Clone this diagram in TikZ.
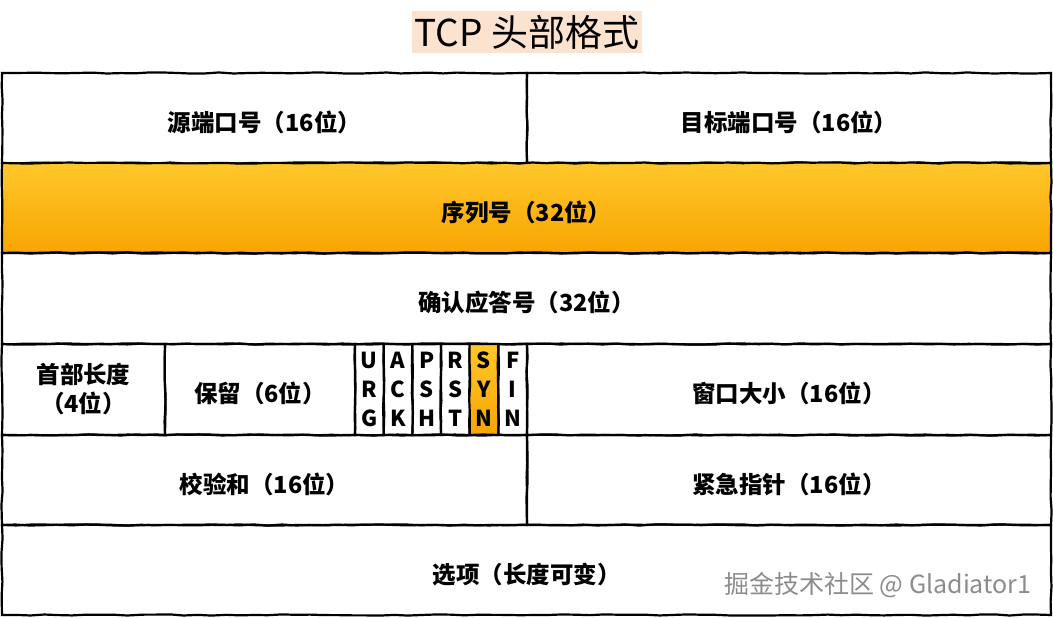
\documentclass[tikz,border=0pt]{standalone}
\usepackage{fontspec}
\setmainfont{Noto Sans CJK SC}
\usetikzlibrary{positioning, decorations.pathmorphing}
\definecolor{orangetop}{HTML}{FFC72C}
\definecolor{orangebot}{HTML}{F8A500}
\definecolor{peach}{HTML}{FCE3CF}

\begin{document}
\begin{tikzpicture}[x=1pt, y=-1pt, font=\bfseries\fontsize{23.5}{28}\selectfont]
        % Setup the styles for the header fields
        \tikzset{field/.style={rectangle,
                               draw=black,
                               line width=2.2pt,
                               anchor=north west,
                               inner sep=0pt,
                               outer sep=0pt,
                               align=center,
                               execute at begin node={\rule{0pt}{1.22em}},
                               decorate,
                               decoration={random steps, segment length=14pt, amplitude=0.6pt}}}
        \tikzset{field hot/.style={field,
                                   top color=orangetop,
                                   bottom color=orangebot}}
        \tikzset{flag/.style={field,
                              minimum width=28.67pt,
                              minimum height=91pt,
                              execute at begin node={},
                              font=\bfseries\fontsize{22}{29}\selectfont}}
        \useasboundingbox (0,0) rectangle (1053,618);

        % Draw the title
        \node[fill=peach, inner xsep=3pt, inner ysep=4pt,
              font=\mdseries\fontsize{37}{42}\selectfont] at (527,32) (title) {TCP 头部格式};

        % Draw the rows
        \node[field, minimum width=525pt, minimum height=90pt] at (2,73) (srcport) {源端口号（16位）};
        \node[field, minimum width=524pt, minimum height=90pt] at (527,73) (dstport) {目标端口号（16位）};
        \node[field hot, minimum width=1049pt, minimum height=90pt] at (2,163) (seqnum) {序列号（32位）};
        \node[field, minimum width=1049pt, minimum height=91pt] at (2,253) (acknum) {确认应答号（32位）};
        \node[field, minimum width=163pt, minimum height=91pt, font=\bfseries\fontsize{23.5}{29}\selectfont] at (2,344) (hdrlen) {首部长度\\（4位）};
        \node[field, minimum width=190pt, minimum height=91pt] at (165,344) (reserved) {保留（6位）};
        \node[flag] at (355,344) (urg) {U\\R\\G};
        \node[flag] at (383.67,344) (ack) {A\\C\\K};
        \node[flag] at (412.33,344) (psh) {P\\S\\H};
        \node[flag] at (441,344) (rst) {R\\S\\T};
        \node[flag, top color=orangetop, bottom color=orangebot] at (469.67,344) (syn) {S\\Y\\N};
        \node[flag] at (498.33,344) (fin) {F\\I\\N};
        \node[field, minimum width=524pt, minimum height=91pt] at (527,344) (window) {窗口大小（16位）};
        \node[field, minimum width=525pt, minimum height=90pt] at (2,435) (checksum) {校验和（16位）};
        \node[field, minimum width=524pt, minimum height=90pt] at (527,435) (urgptr) {紧急指针（16位）};
        \node[field, minimum width=1049pt, minimum height=90pt] at (2,525) (options) {选项（长度可变）};

        % Watermark
        \node[anchor=east, text=black!45, font=\mdseries\fontsize{25}{30}\selectfont] at (1035,585) (mark) {掘金技术社区 @ Gladiator1};
\end{tikzpicture}
\end{document}
